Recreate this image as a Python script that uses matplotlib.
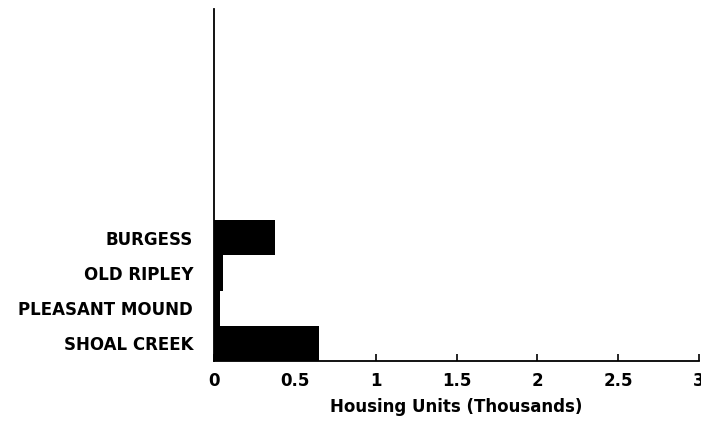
import matplotlib
matplotlib.use("Agg")
import matplotlib.pyplot as plt

categories = ["SHOAL CREEK", "PLEASANT MOUND", "OLD RIPLEY", "BURGESS"]
values = [0.65, 0.037, 0.054, 0.378]
xticks = [0, 0.5, 1, 1.5, 2, 2.5, 3]
xticklabels = ["0", "0.5", "1", "1.5", "2", "2.5", "3"]

plt.rcParams['font.family'] = ['DejaVu Sans']
fig = plt.figure(figsize=(7.01, 4.21), dpi=100)
ax = fig.add_axes([214/701, 60/421, (699-214)/701, (361-9)/421])

ax.barh(range(len(categories)), values, height=1.0, color='black', align='center')
ax.set_ylim(-0.5, 9.5)
ax.set_xlim(0, 3)
ax.set_yticks(range(len(categories)))
ax.set_yticklabels(categories, fontsize=12, fontweight='bold')
ax.tick_params(axis='y', length=0, pad=15)
ax.set_xticks(xticks)
ax.set_xticklabels(xticklabels, fontsize=12, fontweight='bold')
ax.tick_params(axis='x', direction='in', length=5, width=1.2, pad=8)
ax.set_xlabel("Housing Units (Thousands)", fontsize=12, fontweight='bold', labelpad=6)
for s in ['top', 'right']:
    ax.spines[s].set_visible(False)
for s in ['left', 'bottom']:
    ax.spines[s].set_linewidth(1.3)

fig.savefig("out.png", dpi=100)
